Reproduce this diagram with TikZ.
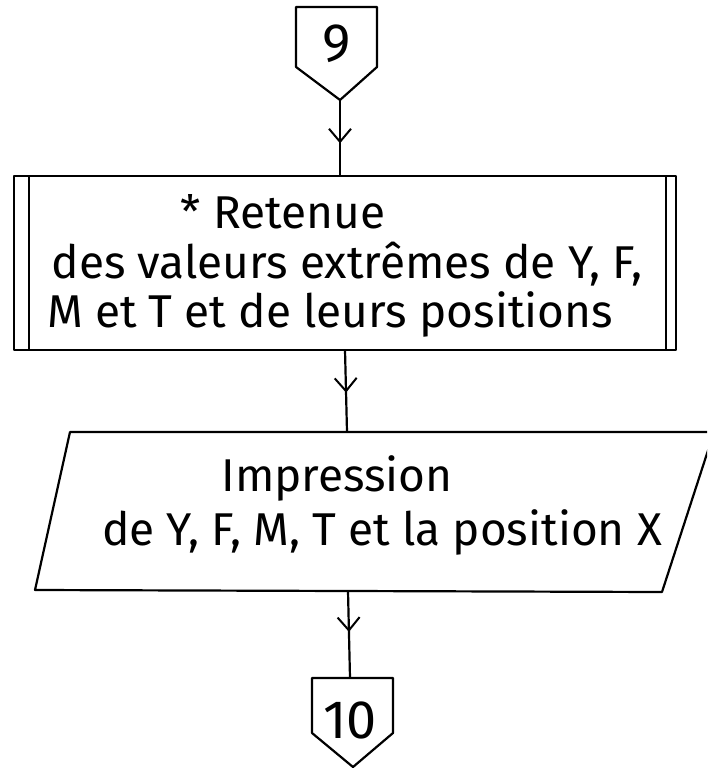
\documentclass[tikz,border=0pt]{standalone}
\usepackage{fontspec}
\setmainfont{Fira Sans}
\usetikzlibrary{arrows.meta,decorations.markings}
\tikzset{
  shapeline/.style={line width=2.2pt, line join=round},
  flow/.style={line width=2.2pt, postaction={decorate},
    decoration={markings, mark=at position #1 with {\arrow[line width=2pt]{Straight Barb[length=13pt,width=22pt]}}}},
  txt/.style={inner sep=0pt, font=\fontsize{46}{50}\selectfont},
  num/.style={inner sep=0pt, font=\fontsize{54}{58}\selectfont}
}
\begin{document}
\begin{tikzpicture}[x=1pt,y=-1pt]
\useasboundingbox (0,0) rectangle (707,768);
\clip (0,0) rectangle (707,768);
% connector 9
\draw[shapeline] (296,7) -- (377,7) -- (377,67) -- (340,100) -- (296,67) -- cycle;
\coordinate (c9) at (340,100);
\node[num] (n9) at (337,44) {9};
% process box
\draw[shapeline] (14,176) rectangle (676,350);
\draw[shapeline] (29,176) -- (29,350);
\draw[shapeline] (666,176) -- (666,350);
\coordinate (ptop) at (340,176);
\coordinate (pbot) at (345,350);
\node[txt] (r1) at (283,212) {* Retenue};
\node[txt] (r2) at (347,264) {des valeurs extrêmes de Y, F,};
\node[txt] (r3) at (330,314) {M et T et de leurs positions};
% parallelogram
\draw[shapeline] (70,432) -- (714,432) -- (662,592) -- (35,590) -- cycle;
\coordinate (itop) at (347,432);
\coordinate (ibot) at (348,591);
\node[txt] (i1) at (337,478) {Impression};
\node[txt] (i2) at (382,532) {de Y, F, M, T et la position X};
% connector 10
\draw[shapeline] (312,678) -- (393,678) -- (393,733) -- (353,767) -- (312,733) -- cycle;
\coordinate (c10) at (350,678);
\node[num] (n10) at (350,720) {10};
% flows
\draw[flow=0.57] (c9) -- (ptop);
\draw[flow=0.52] (pbot) -- (itop);
\draw[flow=0.47] (ibot) -- (c10);
\end{tikzpicture}
\end{document}
